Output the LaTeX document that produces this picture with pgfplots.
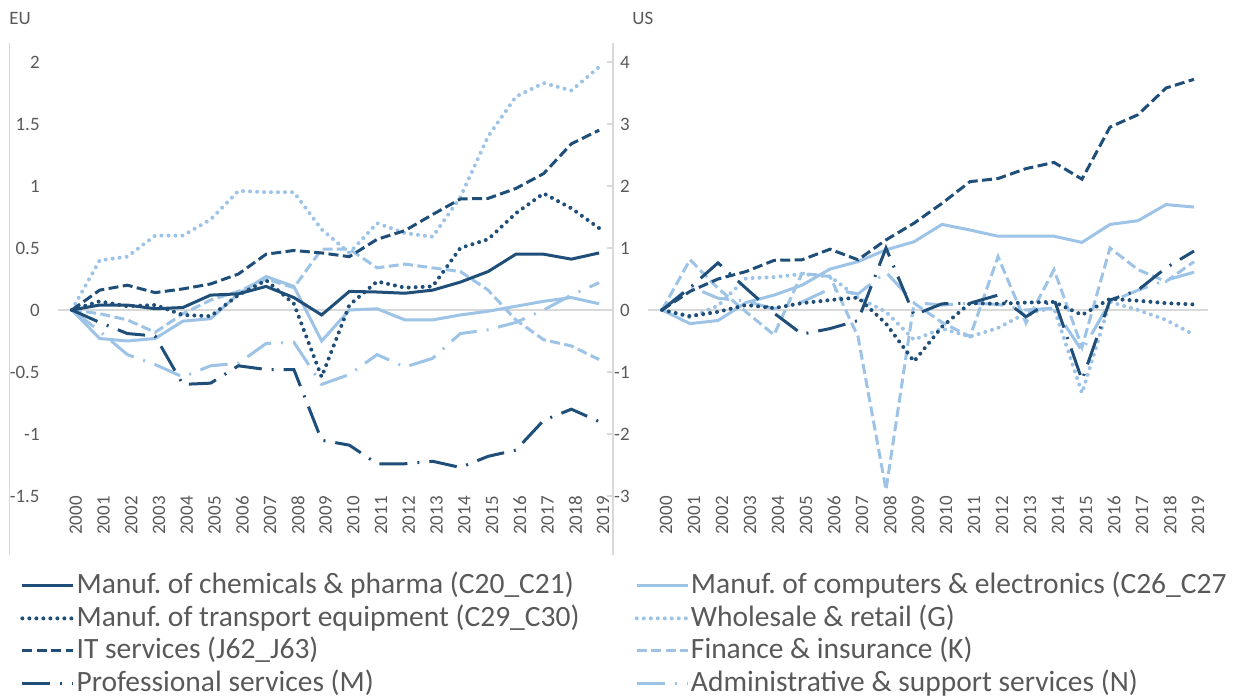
\documentclass[border=0pt]{standalone}
\usepackage{pgfplots}
\pgfplotsset{compat=1.18}
\usepackage{pgfplotstable}
\usepackage{fontspec}
\setmainfont{Carlito}
\frenchspacing

\definecolor{darkb}{HTML}{1F4E79}
\definecolor{lightb}{HTML}{9DC3E6}
\definecolor{txt}{HTML}{595959}
\definecolor{axgray}{HTML}{D9D9D9}

% EU: change since 2000
\pgfplotstableread{
year chem  trans it    prof  comp  whole fin   admin
2000 0     0     0     0     0     0     0     0
2001 0.04  0.07  0.16  -0.10 -0.23 0.40  -0.03 -0.17
2002 0.04  0.03  0.20  -0.19 -0.25 0.43  -0.08 -0.36
2003 0.01  0.04  0.14  -0.21 -0.23 0.60  -0.18 -0.44
2004 0.02  -0.04 0.17  -0.60 -0.09 0.60  -0.03 -0.54
2005 0.12  -0.05 0.21  -0.59 -0.07 0.73  0.08  -0.45
2006 0.13  0.12  0.29  -0.45 0.13  0.96  0.15  -0.43
2007 0.19  0.24  0.45  -0.48 0.27  0.95  0.25  -0.27
2008 0.10  0.05  0.48  -0.48 0.19  0.95  0.18  -0.26
2009 -0.04 -0.54 0.46  -1.05 -0.25 0.65  0.49  -0.60
2010 0.15  0.04  0.43  -1.09 0.00  0.46  0.49  -0.52
2011 0.145 0.23  0.57  -1.24 0.01  0.70  0.34  -0.36
2012 0.135 0.18  0.64  -1.24 -0.08 0.62  0.37  -0.46
2013 0.16  0.19  0.77  -1.22 -0.08 0.59  0.34  -0.39
2014 0.225 0.50  0.895 -1.27 -0.04 0.91  0.31  -0.19
2015 0.31  0.57  0.90  -1.18 -0.01 1.40  0.16  -0.16
2016 0.45  0.78  0.98  -1.13 0.03  1.72  -0.08 -0.10
2017 0.45  0.94  1.10  -0.89 0.07  1.83  -0.24 0.00
2018 0.41  0.82  1.34  -0.80 0.10  1.77  -0.29 0.12
2019 0.46  0.66  1.45  -0.90 0.05  1.96  -0.40 0.22
}\eudata

% US
\pgfplotstableread{
year comp  trans whole it    fin   admin prof
2000 0     0     0     0     0     0     0
2001 -0.22 -0.10 -0.12 0.30  0.81  0.38  0.36
2002 -0.17 -0.03 0.07  0.50  0.35  0.19  0.76
2003 0.12  0.08  0.51  0.62  -0.03 0.14  0.35
2004 0.24  0.03  0.53  0.80  -0.40 0.02  -0.05
2005 0.40  0.11  0.58  0.81  0.59  0.13  -0.39
2006 0.66  0.16  0.54  0.98  0.54  0.34  -0.30
2007 0.78  0.20  0.20  0.81  -0.43 0.26  -0.17
2008 0.97  -0.22 -0.03 1.13  -2.90 0.61  1.00
2009 1.10  -0.83 -0.48 1.40  0.11  0.12  -0.08
2010 1.38  -0.27 -0.30 1.72  -0.20 0.08  0.10
2011 1.29  0.11  -0.43 2.07  -0.43 0.11  0.11
2012 1.19  0.10  -0.29 2.12  0.86  0.09  0.24
2013 1.19  0.12  -0.05 2.28  -0.21 0.00  -0.11
2014 1.19  0.13  0.03  2.38  0.65  0.03  0.18
2015 1.09  -0.08 -1.34 2.11  -0.60 -0.66 -1.13
2016 1.38  0.18  0.13  2.95  1.00  0.13  0.16
2017 1.44  0.15  0.00  3.15  0.65  0.32  0.32
2018 1.70  0.11  -0.16 3.58  0.46  0.48  0.68
2019 1.66  0.09  -0.40 3.72  0.78  0.61  0.95
}\usdata

\pgfplotsset{
  dk/.style={color=darkb, line width=1.5bp},
  lt/.style={color=lightb, line width=1.5bp},
  dots/.style={line cap=round, dash pattern=on 0bp off 3.5bp, line width=2bp},
  sdash/.style={dash pattern=on 5bp off 2.2bp},
  ldd/.style={dash pattern=on 14bp off 5bp on 1bp off 5bp},
  panel/.style={
    scale only axis,
    height=225.5bp,
    xmin=1999.5, xmax=2019.5,
    axis line style={draw=none},
    major tick length=0pt,
    xtick={2000,2001,...,2019},
    /pgf/number format/1000 sep={},
    /pgf/number format/assume math mode=true,
    tick label style={font=\fontsize{9.5}{10}\selectfont, text=txt},
    x tick label style={rotate=90, anchor=east, inner sep=0pt, yshift=-2bp},
    y tick label style={anchor=east, inner sep=0pt, xshift=-9bp},
    extra y ticks={0},
    extra y tick labels={},
    extra y tick style={grid=major, major grid style={axgray, line width=0.75bp}},
    clip=false,
  },
}

\begin{document}
\begin{tikzpicture}
\useasboundingbox (0,0) rectangle (621.5bp,348.5bp);

\node[anchor=base west, inner sep=0pt, text=txt, font=\fontsize{9.5}{10}\selectfont] at (4.5bp,336bp) {EU};
\node[anchor=base west, inner sep=0pt, text=txt, font=\fontsize{9.5}{10}\selectfont] at (316bp,336bp) {US};

\draw[axgray, line width=0.75bp] (4.7bp,71bp) -- (4.7bp,327bp);
\draw[axgray, line width=0.75bp] (306.5bp,71bp) -- (306.5bp,327bp);
\foreach \v in {0,...,7} {
  \draw[axgray, line width=0.75bp] (303.5bp,100.5bp+31bp*\v) -- (306.5bp,100.5bp+31bp*\v);
}

\begin{axis}[panel,
  at={(29bp,100.5bp)}, anchor=south west,
  width=277.5bp,
  ymin=-1.5, ymax=2.137,
  ytick={-1.5,-1,-0.5,0,0.5,1,1.5,2},
  yticklabels={-1.5,-1,-0.5,0,0.5,1,1.5,2},
  legend columns=2,
  legend cell align=left,
  legend image code/.code={\draw[#1] (0bp,0bp) -- (25.5bp,0bp);},
  legend style={at={(-0.0685,-0.162)}, anchor=north west, draw=none, fill=none,
    inner sep=0pt, row sep=0pt,
    font=\fontsize{14.8}{16}\selectfont, text=txt,
    nodes={inner xsep=0.6bp, inner ysep=0.5bp, text height=11.5bp, text depth=3.8bp},
    /tikz/every even column/.append style={column sep=27bp}},
]
\addplot[lt, ldd, forget plot] table[x=year, y=admin] {\eudata};
\addplot[lt, sdash, forget plot] table[x=year, y=fin] {\eudata};
\addplot[lt, dots, forget plot] table[x=year, y=whole] {\eudata};
\addplot[lt, forget plot] table[x=year, y=comp] {\eudata};
\addplot[dk, ldd, forget plot] table[x=year, y=prof] {\eudata};
\addplot[dk, sdash, forget plot] table[x=year, y=it] {\eudata};
\addplot[dk, dots, forget plot] table[x=year, y=trans] {\eudata};
\addplot[dk, forget plot] table[x=year, y=chem] {\eudata};

\addlegendimage{dk}
\addlegendentry{Manuf. of chemicals \& pharma (C20\_C21)}
\addlegendimage{lt}
\addlegendentry{Manuf. of computers \& electronics (C26\_C27}
\addlegendimage{dk, dots}
\addlegendentry{Manuf. of transport equipment (C29\_C30)}
\addlegendimage{lt, dots}
\addlegendentry{Wholesale \& retail (G)}
\addlegendimage{dk, sdash}
\addlegendentry{IT services (J62\_J63)}
\addlegendimage{lt, sdash}
\addlegendentry{Finance \& insurance (K)}
\addlegendimage{dk, ldd}
\addlegendentry{Professional services (M)}
\addlegendimage{lt, ldd}
\addlegendentry{Administrative \& support services (N)}
\end{axis}

\begin{axis}[panel,
  at={(324bp,100.5bp)}, anchor=south west,
  width=280bp,
  ymin=-3, ymax=4.274,
  ytick={-3,-2,-1,0,1,2,3,4},
  yticklabels={-3,-2,-1,0,1,2,3,4},
]
\addplot[lt, ldd] table[x=year, y=admin] {\usdata};
\addplot[lt, sdash] table[x=year, y=fin] {\usdata};
\addplot[lt, dots] table[x=year, y=whole] {\usdata};
\addplot[lt] table[x=year, y=comp] {\usdata};
\addplot[dk, ldd] table[x=year, y=prof] {\usdata};
\addplot[dk, sdash] table[x=year, y=it] {\usdata};
\addplot[dk, dots] table[x=year, y=trans] {\usdata};
\end{axis}
\end{tikzpicture}
\end{document}
